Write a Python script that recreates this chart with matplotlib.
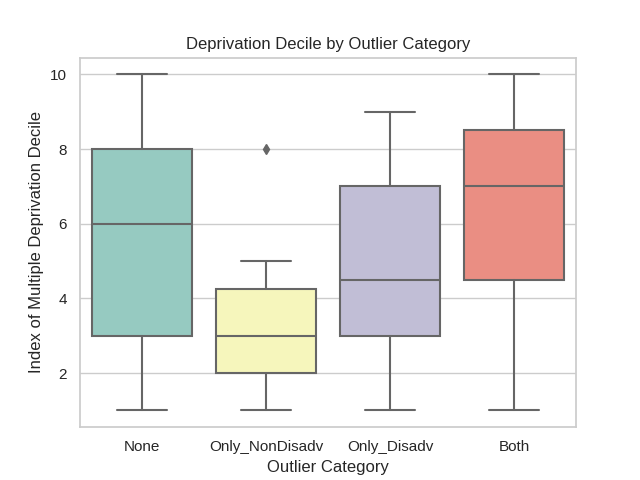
import matplotlib
matplotlib.use("Agg")
import matplotlib.pyplot as plt
import seaborn as sns

# box statistics
categories = ["None", "Only_NonDisadv", "Only_Disadv", "Both"]
whislo = [1, 1, 1, 1]
q1 = [3, 2, 3, 4.5]
med = [6, 3, 4.5, 7]
q3 = [8, 4.25, 7, 8.5]
whishi = [10, 5, 9, 10]
fliers = [[], [8], [], []]

sns.set_theme(style="whitegrid", context="notebook")
plt.rcParams["font.family"] = ["Liberation Sans", "DejaVu Sans"]

stats = []
for i, name in enumerate(categories):
    stats.append({"label": name, "whislo": whislo[i], "q1": q1[i], "med": med[i],
                  "q3": q3[i], "whishi": whishi[i], "fliers": fliers[i]})

colors = [sns.desaturate(c, 0.75) for c in sns.color_palette("Set3", 4)]
gray = "#666666"

fig, ax = plt.subplots(figsize=(6.4, 4.8), dpi=100)
bp = ax.bxp(stats, positions=range(len(categories)), widths=0.8, patch_artist=True,
            boxprops=dict(edgecolor=gray, linewidth=1.5),
            medianprops=dict(color=gray, linewidth=1.5),
            whiskerprops=dict(color=gray, linewidth=1.5),
            capprops=dict(color=gray, linewidth=1.5),
            flierprops=dict(marker="d", markerfacecolor=gray, markeredgecolor=gray,
                            markersize=5))
for patch, c in zip(bp["boxes"], colors):
    patch.set_facecolor(c)
    patch.set_zorder(2)

ax.set_xlim(-0.5, len(categories) - 0.5)
ax.xaxis.grid(False)
ax.set_xticks(range(len(categories)))
ax.set_xticklabels(categories)
ax.set_title("Deprivation Decile by Outlier Category")
ax.set_xlabel("Outlier Category")
ax.set_ylabel("Index of Multiple Deprivation Decile")

fig.savefig("out.png")
